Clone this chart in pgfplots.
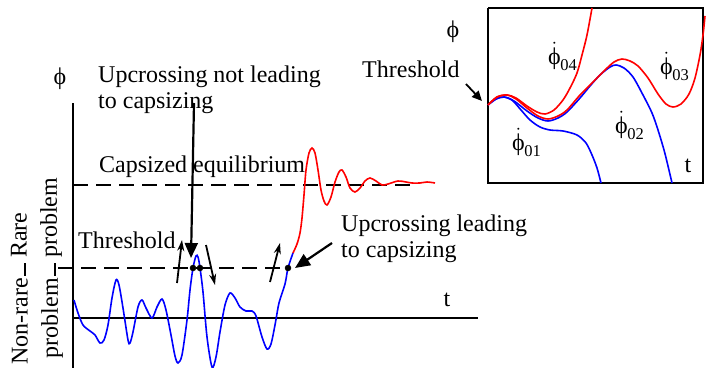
\documentclass[border=0pt]{standalone}
\usepackage{pgfplots}
\pgfplotsset{compat=1.18}
\usepackage{fontspec}
\setmainfont{Liberation Serif}
\usetikzlibrary{arrows.meta}
\newcommand\ph{\symbol{"03D5}}
\newcommand\sub[1]{\raisebox{-6bp}{\fontsize{16.5bp}{16.5bp}\selectfont #1}}
\newcommand\dphi[1]{\ensuremath{\dot{\hbox{\ph}}}\kern-0.5bp\sub{#1}}
\tikzset{lbl/.style={font=\fontsize{24bp}{26bp}\selectfont, inner sep=0pt}}
\begin{document}
\fontsize{24bp}{26bp}\selectfont
\begin{tikzpicture}
\begin{axis}[
  at={(0,0)}, anchor=south west,
  scale only axis, width=707bp, height=368bp,
  xmin=0, xmax=707, ymin=0, ymax=368, y dir=reverse,
  hide axis, clip=false,
  every axis plot/.append style={no marks},
]
% main axes
\addplot[black, line width=1.6bp] coordinates {(73,103) (73,368)};
\addplot[black, line width=1.6bp] coordinates {(73,318) (478,318)};
% reference lines
\addplot[black, line width=1.5bp, dash pattern=on 15bp off 8bp] coordinates {(73,185) (415,185)};
\addplot[black, line width=1.5bp, dash pattern=on 15bp off 8bp] coordinates {(58,268) (290,268)};
\addplot[black, line width=1.5bp] coordinates {(25,263) (25,276)};
\addplot[black, line width=1.5bp] coordinates {(55,263) (55,276)};
% blue roll signal
\addplot[blue, line width=1.6bp, smooth] coordinates {
(74,300) (78,313) (83,325) (90,331) (95,335) (100,343) (104,340) (108,325) (112,298) (116,280)
(119,285) (123,308) (128,340) (130,343) (133,332) (138,307) (142,300) (146,308) (152,318)
(157,307) (162,299) (166,310) (171,335) (175,356) (178,363) (182,355) (187,320) (190,290)
(193,268) (196,256) (198,257) (200,268) (203,292) (207,337) (212,367) (216,357) (220,332)
(225,305) (230,293) (235,298) (240,307) (246,311) (252,311) (256,316) (262,337) (267,349)
(271,344) (275,325) (279,303) (285,284) (288,268) (293,253)};
% red capsizing part
\addplot[red, line width=1.6bp, smooth] coordinates {
(293,253) (297,244) (300,233) (302,218) (304,195) (306,170) (309,153) (312,148) (315,153)
(318,170) (321,190) (324,201) (327,205) (331,197) (335,182) (339,172) (342,170) (346,177)
(350,188) (355,192) (360,188) (365,181) (370,178) (376,181) (382,185) (388,184) (398,181)
(406,182) (412,183) (420,183) (427,182) (435,183)};
% crossing dots
\addplot[only marks, mark=*, mark size=3bp, black] coordinates {(193,268) (200,268) (288,268)};
% small arrows
\draw[-{Stealth[length=11bp,width=7bp]}, line width=1.8bp] (axis cs:177,283) -- (axis cs:182,240);
\draw[-{Stealth[length=11bp,width=7bp]}, line width=1.8bp] (axis cs:206,245) -- (axis cs:215,285);
\draw[-{Stealth[length=11bp,width=7bp]}, line width=1.8bp] (axis cs:270,282) -- (axis cs:280,243);
% big arrows
\draw[-{Triangle[length=15bp,width=13bp]}, line width=2.2bp] (axis cs:194,103) -- (axis cs:191,258);
\draw[-{Triangle[length=15bp,width=13bp]}, line width=2.2bp] (axis cs:332,243) -- (axis cs:295,268);
% texts main
\node[lbl, anchor=base west, align=left] at (axis cs:98,108) {Upcrossing not leading\\to capsizing};
\node[lbl, anchor=base west] at (axis cs:99,172) {Capsized equilibrium};
\node[lbl, anchor=base west] at (axis cs:78,248) {Threshold};
\node[lbl, anchor=base west, align=left] at (axis cs:341,257) {Upcrossing leading\\to capsizing};
\node[lbl] at (axis cs:60,79) {\ph};
\node[lbl] at (axis cs:447,300) {t};
\node[lbl, rotate=90, anchor=west] at (axis cs:19,258) {Rare};
\node[lbl, rotate=90, anchor=west] at (axis cs:51,258) {problem};
\node[lbl, rotate=90, anchor=east] at (axis cs:20,278) {Non-rare};
\node[lbl, rotate=90, anchor=east] at (axis cs:52,278) {problem};
% inset box
\addplot[black, line width=2bp] coordinates {(488,8) (703,8) (703,183) (488,183) (488,8)};
% inset curves
\addplot[blue, line width=1.6bp, smooth] coordinates {
(488,105) (496,99) (504,97) (512,100) (521,110) (530,120) (540,127) (550,130) (563,131)
(577,135) (586,143) (592,155) (597,168) (601,183)};
\addplot[blue, line width=1.6bp, smooth] coordinates {
(488,105) (496,99) (504,97) (514,101) (527,111) (538,118) (548,121) (558,118) (567,112)
(580,98) (590,86) (600,75) (610,67) (616,65) (624,68) (633,77) (643,95) (652,113) (658,130)
(664,150) (668,166) (672,183)};
\addplot[red, line width=1.6bp, smooth] coordinates {
(488,105) (497,97) (507,95) (516,98) (527,106) (537,112) (545,114) (554,110) (563,100)
(570,88) (577,73) (582,55) (587,35) (592,8)};
\addplot[red, line width=1.6bp, smooth] coordinates {
(488,105) (497,97) (507,95) (516,99) (527,108) (538,116) (548,119) (558,116) (567,110)
(580,95) (593,82) (605,70) (614,62) (622,59) (630,61) (638,66) (648,78) (658,94) (666,104)
(673,107) (681,104) (689,94) (695,78) (700,55) (703,35) (705,16)};
% inset texts
\draw[-{Triangle[length=10bp,width=9bp]}, line width=1.8bp] (axis cs:466,84) -- (axis cs:482,101);
\node[lbl, anchor=base west] at (axis cs:362,77) {Threshold};
\node[lbl] at (axis cs:453,32) {\ph};
\node[lbl] at (axis cs:688,166) {t};
\node[lbl, anchor=base west] at (axis cs:548,64) {\dphi{04}};
\node[lbl, anchor=base west] at (axis cs:660,74) {\dphi{03}};
\node[lbl, anchor=base west] at (axis cs:615,133) {\dphi{02}};
\node[lbl, anchor=base west] at (axis cs:512,150) {\dphi{01}};
\end{axis}
\pgfresetboundingbox
\useasboundingbox (0,0) rectangle (707bp,368bp);
\end{tikzpicture}
\end{document}
